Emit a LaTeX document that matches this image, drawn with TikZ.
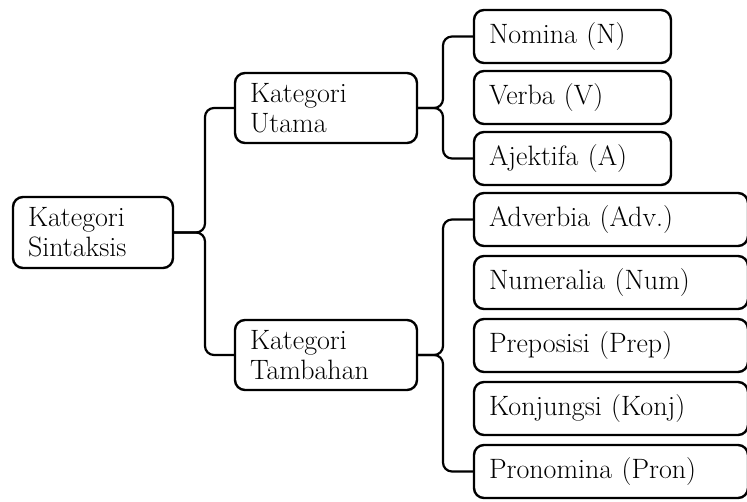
\documentclass[tikz,border=0pt]{standalone}
\usepackage{tikz}
\usetikzlibrary{positioning,calc}

\tikzset{
    catbox/.style={draw, line width=2.4pt, rounded corners=10pt, align=left, outer sep=0pt,
        inner xsep=15pt, inner ysep=2pt, font=\fontsize{28}{30}\selectfont},
    leaf/.style={catbox, text width=167pt, minimum height=53pt},
    wide/.style={catbox, text width=244pt, minimum height=53pt},
    link/.style={line width=2.2pt, rounded corners=9pt},
}

\begin{document}
\begin{tikzpicture}[x=1pt,y=-1pt]
    \useasboundingbox (0,0) rectangle (747,502);
    \clip (0,0) rectangle (747,502);
    % left column
    \node[catbox, text width=130pt, minimum height=71pt, anchor=west] (sint) at (13,232.5) {Kategori\\Sintaksis};
    \node[catbox, text width=152pt, minimum height=70pt, anchor=west] (utama) at (235,108) {Kategori\\Utama};
    \node[catbox, text width=152pt, minimum height=70pt, anchor=west] (tambah) at (235,355) {Kategori\\Tambahan};
    % leaves
    \node[leaf, anchor=west] (nom) at (474,36.5) {Nomina (N)};
    \node[leaf, below=8pt of nom] (verb) {Verba (V)};
    \node[leaf, below=8pt of verb] (adj) {Ajektifa (A)};
    \node[wide, below=8pt of adj.south west, anchor=north west] (adv) {Adverbia (Adv.)};
    \node[wide, below=10pt of adv] (num) {Numeralia (Num)};
    \node[wide, below=10pt of num] (prep) {Preposisi (Prep)};
    \node[wide, below=10pt of prep] (konj) {Konjungsi (Konj)};
    \node[wide, below=10pt of konj] (pron) {Pronomina (Pron)};
    % braces
    \coordinate (b1) at (205,0);
    \coordinate (b2) at (443,0);
    \draw[link] (sint.east) -- (sint.east -| b1) |- (utama.west);
    \draw[link] (sint.east) -- (sint.east -| b1) |- (tambah.west);
    \draw[link] (utama.east) -- (utama.east -| b2) |- (nom.west);
    \draw[link] (utama.east) -- (utama.east -| b2) |- (adj.west);
    \draw[link] (tambah.east) -- (tambah.east -| b2) |- (adv.west);
    \draw[link] (tambah.east) -- (tambah.east -| b2) |- (pron.west);
\end{tikzpicture}
\end{document}
